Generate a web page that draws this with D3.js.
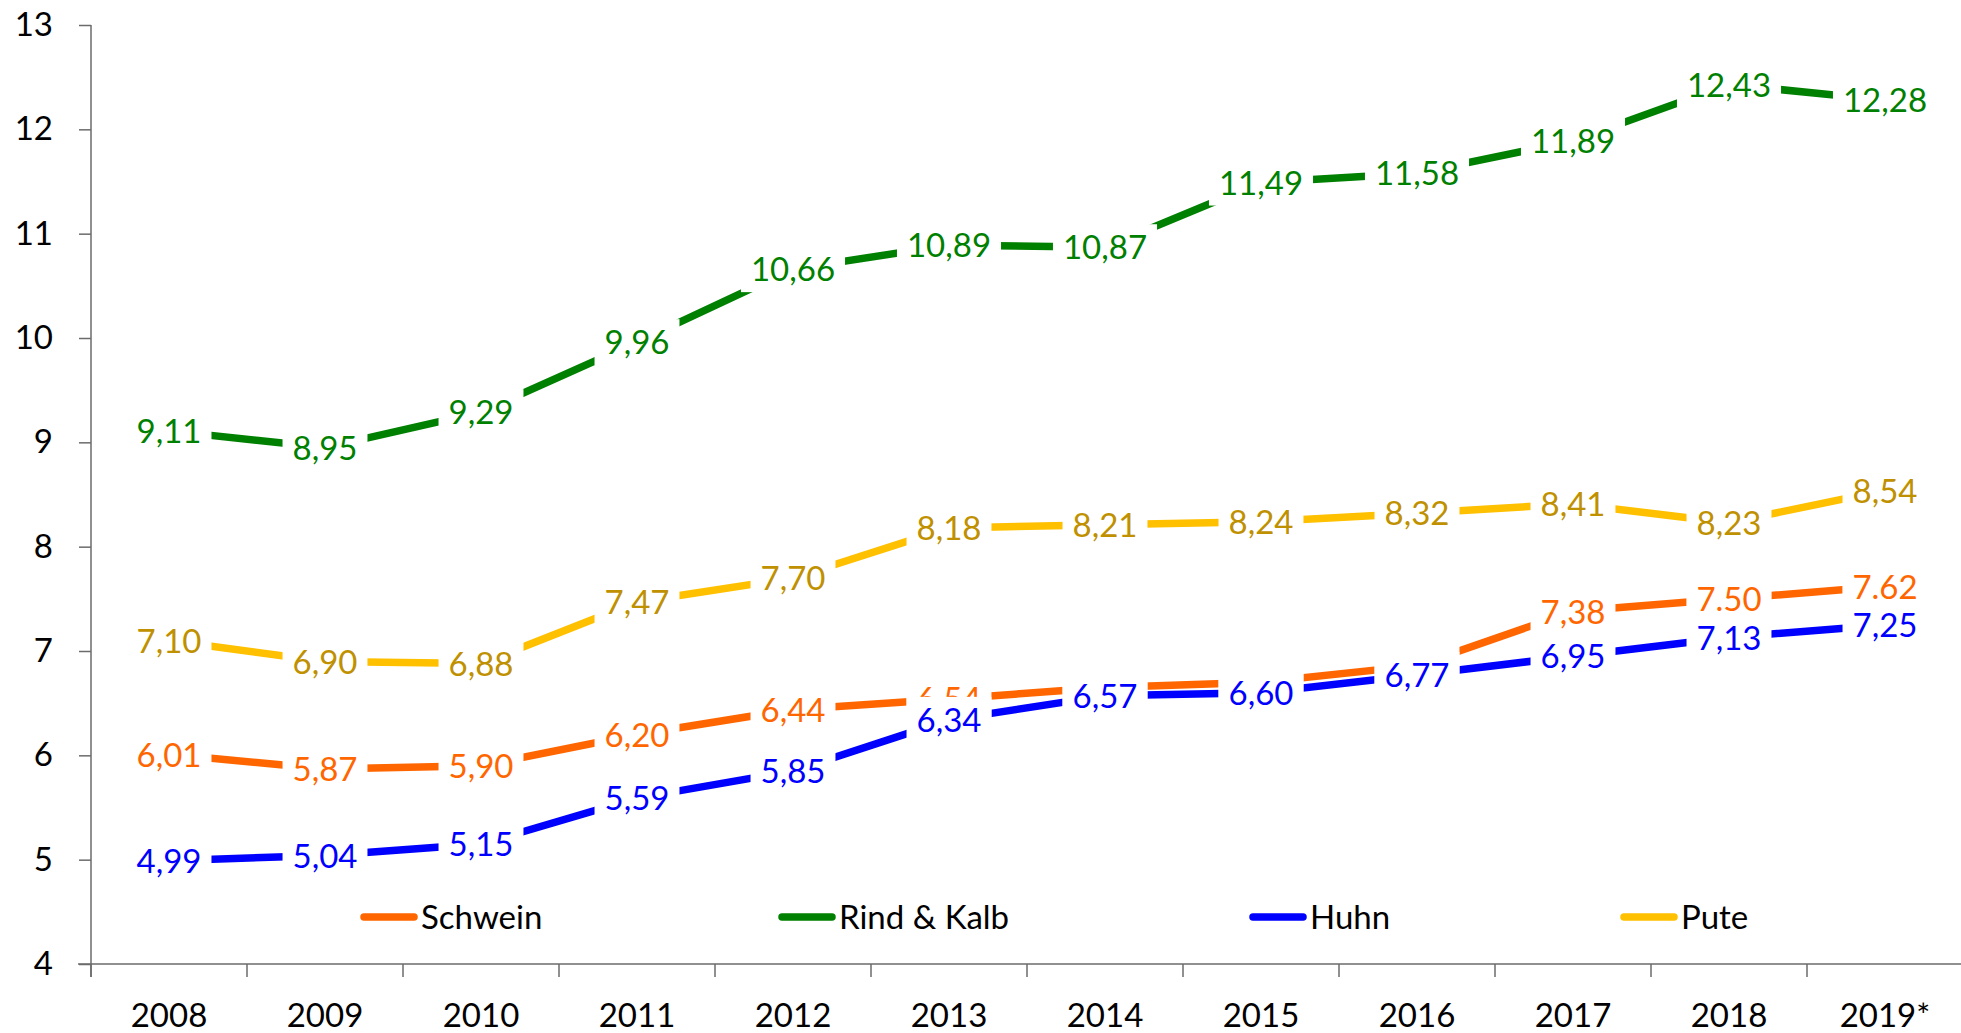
<!DOCTYPE html>
<html>
<head>
<meta charset="utf-8">
<script src="https://cdn.jsdelivr.net/npm/d3@7"></script>
<style>
	html, body { margin: 0; padding: 0; background: #fff; }
	svg { display: block; font-family: Lato, "Open Sans", sans-serif; }
</style>
</head>
<body>
<div id="chart"></div>
<script>
const years = ["2008","2009","2010","2011","2012","2013","2014","2015","2016","2017","2018","2019*"];

const schwein = [6.01, 5.87, 5.90, 6.20, 6.44, 6.54, 6.65, 6.70, 6.86, 7.38, 7.50, 7.62];
const rind    = [9.11, 8.95, 9.29, 9.96, 10.66, 10.89, 10.87, 11.49, 11.58, 11.89, 12.43, 12.28];
const huhn    = [4.99, 5.04, 5.15, 5.59, 5.85, 6.34, 6.57, 6.60, 6.77, 6.95, 7.13, 7.25];
const pute    = [7.10, 6.90, 6.88, 7.47, 7.70, 8.18, 8.21, 8.24, 8.32, 8.41, 8.23, 8.54];

const yTicks = [4, 5, 6, 7, 8, 9, 10, 11, 12, 13];

// labels in the source that use a point instead of a comma
const dotLabels = { "Schwein": ["2018", "2019*"] };

const series = [
	{ name: "Schwein",     values: schwein, line: "#ff6600", label: "#ff6600", legendX: 360 },
	{ name: "Rind & Kalb", values: rind,    line: "#008000", label: "#008000", legendX: 778 },
	{ name: "Huhn",        values: huhn,    line: "#0000ff", label: "#0000ff", legendX: 1249 },
	{ name: "Pute",        values: pute,    line: "#ffc000", label: "#bf9000", legendX: 1620 }
];

const W = 1961, H = 1033;
const fontSize = 33;

const svg = d3.select("#chart").append("svg")
	.attr("width", W)
	.attr("height", H);

const x = d3.scaleBand()
	.domain(years)
	.range([91, 1963])
	.padding(0);

const y = d3.scaleLinear()
	.domain([4, 13])
	.range([964, 25]);

const axisColor = "#6b6b6b";

// y axis
const yAxis = svg.append("g")
	.attr("transform", "translate(91,0)")
	.call(d3.axisLeft(y).tickValues(yTicks).tickSize(12).tickSizeOuter(0).tickPadding(26).tickFormat(d3.format("d")));
yAxis.select(".domain").remove();
yAxis.selectAll("line").attr("stroke", axisColor).attr("stroke-width", 1.5);
yAxis.selectAll("text").attr("font-size", fontSize).attr("fill", "#000").attr("font-family", "Lato");
svg.append("line")
	.attr("x1", 91).attr("x2", 91)
	.attr("y1", y(13)).attr("y2", y(4) + 13)
	.attr("stroke", axisColor).attr("stroke-width", 1.5);

// x axis
const xAxis = svg.append("g")
	.attr("transform", `translate(0,${y(4)})`)
	.call(d3.axisBottom(x).tickSize(0).tickPadding(40));
xAxis.select(".domain").remove();
xAxis.selectAll("text").attr("font-size", fontSize).attr("fill", "#000").attr("font-family", "Lato");
svg.append("line")
	.attr("x1", 78).attr("x2", W)
	.attr("y1", y(4)).attr("y2", y(4))
	.attr("stroke", axisColor).attr("stroke-width", 1.5);
svg.append("g").selectAll("line")
	.data(years)
	.join("line")
	.attr("x1", d => x(d)).attr("x2", d => x(d))
	.attr("y1", y(4)).attr("y2", y(4) + 13)
	.attr("stroke", axisColor).attr("stroke-width", 1.5);

const cx = d => x(d) + x.bandwidth() / 2;

const line = d3.line()
	.x((v, i) => cx(years[i]))
	.y(v => y(v));

// all lines first
series.forEach(s => {
	svg.append("path")
		.datum(s.values)
		.attr("d", line)
		.attr("fill", "none")
		.attr("stroke", s.line)
		.attr("stroke-width", 7.5)
		.attr("stroke-linejoin", "round");
});

// data labels with white boxes, drawn per series so later ones cover earlier ones
series.forEach(s => {
	const dots = dotLabels[s.name] || [];
	s.values.forEach((v, i) => {
		const txt = dots.includes(years[i]) ? v.toFixed(2) : v.toFixed(2).replace(".", ",");
		const g = svg.append("g")
			.attr("transform", `translate(${cx(years[i])},${y(v)})`);
		const rect = g.append("rect").attr("fill", "#fff");
		const t = g.append("text")
			.attr("text-anchor", "middle")
			.attr("dy", "0.37em")
			.attr("font-size", fontSize)
			.attr("fill", s.label)
			.text(txt);
		const bb = t.node().getBBox();
		rect.attr("x", -bb.width / 2 - 10)
			.attr("width", bb.width + 20)
			.attr("y", -23)
			.attr("height", 46);
	});
});

// legend
const legendY = 917;
series.forEach(s => {
	const g = svg.append("g").attr("transform", `translate(${s.legendX},${legendY})`);
	g.append("line")
		.attr("x1", 4).attr("x2", 54)
		.attr("stroke", s.line)
		.attr("stroke-width", 7.5)
		.attr("stroke-linecap", "round");
	g.append("text")
		.attr("x", 61)
		.attr("dy", "0.36em")
		.attr("font-size", fontSize)
		.attr("fill", "#000")
		.text(s.name);
});
</script>
</body>
</html>
